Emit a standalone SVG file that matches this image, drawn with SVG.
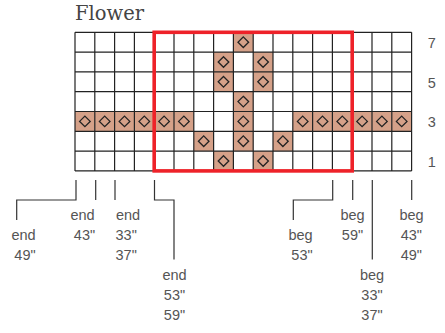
<svg xmlns="http://www.w3.org/2000/svg" xmlns:xlink="http://www.w3.org/1999/xlink" width="445" height="333" viewBox="0 0 445 333">
<style>
.title{font-family:"DejaVu Serif","Liberation Serif",serif;font-size:19.5px;fill:#444}
.lbl{font-family:"Liberation Sans",Arial,sans-serif;font-size:14.5px;fill:#555;text-anchor:middle}
.grid{fill:none;stroke:#222;stroke-width:1.2}
.conn{fill:none;stroke:#333;stroke-width:1.2}
.frame{fill:none;stroke:#ee2229;stroke-width:3.6}
</style>
<defs>
<g id="cell">
<rect x="0" y="0" width="19.8" height="19.8" fill="#d5a189"/>
<path d="M9.9,4.6 L15.2,9.9 L9.9,15.2 L4.6,9.9Z" fill="none" stroke="#222" stroke-width="1.3"/>
</g>
</defs>
<rect width="445" height="333" fill="#fff"/>
<text class="title" x="75" y="20">Flower</text>
<g id="chart">
<g id="cells">
<use xlink:href="#cell" x="233.4" y="32.3"/>
<use xlink:href="#cell" x="213.6" y="52.1"/>
<use xlink:href="#cell" x="253.2" y="52.1"/>
<use xlink:href="#cell" x="213.6" y="71.9"/>
<use xlink:href="#cell" x="253.2" y="71.9"/>
<use xlink:href="#cell" x="233.4" y="91.7"/>
<use xlink:href="#cell" x="75" y="111.5"/>
<use xlink:href="#cell" x="94.8" y="111.5"/>
<use xlink:href="#cell" x="114.6" y="111.5"/>
<use xlink:href="#cell" x="134.4" y="111.5"/>
<use xlink:href="#cell" x="154.2" y="111.5"/>
<use xlink:href="#cell" x="174" y="111.5"/>
<use xlink:href="#cell" x="233.4" y="111.5"/>
<use xlink:href="#cell" x="292.8" y="111.5"/>
<use xlink:href="#cell" x="312.6" y="111.5"/>
<use xlink:href="#cell" x="332.4" y="111.5"/>
<use xlink:href="#cell" x="352.2" y="111.5"/>
<use xlink:href="#cell" x="372" y="111.5"/>
<use xlink:href="#cell" x="391.8" y="111.5"/>
<use xlink:href="#cell" x="193.8" y="131.3"/>
<use xlink:href="#cell" x="233.4" y="131.3"/>
<use xlink:href="#cell" x="273" y="131.3"/>
<use xlink:href="#cell" x="213.6" y="151.1"/>
<use xlink:href="#cell" x="253.2" y="151.1"/>
</g>
<path class="grid" d="M75,32.3V170.9M94.8,32.3V170.9M114.6,32.3V170.9M134.4,32.3V170.9M154.2,32.3V170.9M174,32.3V170.9M193.8,32.3V170.9M213.6,32.3V170.9M233.4,32.3V170.9M253.2,32.3V170.9M273,32.3V170.9M292.8,32.3V170.9M312.6,32.3V170.9M332.4,32.3V170.9M352.2,32.3V170.9M372,32.3V170.9M391.8,32.3V170.9M411.6,32.3V170.9M75,32.3H411.6M75,52.1H411.6M75,71.9H411.6M75,91.7H411.6M75,111.5H411.6M75,131.3H411.6M75,151.1H411.6M75,170.9H411.6"/>
<rect class="frame" x="154.2" y="32.3" width="198" height="138.6"/>
</g>
<g id="row-numbers">
<text class="lbl" x="431.7" y="48">7</text>
<text class="lbl" x="431.7" y="87.5">5</text>
<text class="lbl" x="431.7" y="127">3</text>
<text class="lbl" x="431.7" y="166.5">1</text>
</g>
<g id="connectors">
<path class="conn" d="M76,180V200H16.7V220"/>
<path class="conn" d="M95.7,180V200"/>
<path class="conn" d="M115,180V200"/>
<path class="conn" d="M154.5,180V200H174V259.5"/>
<path class="conn" d="M332.7,180V200H293.3V220"/>
<path class="conn" d="M352.7,180V200"/>
<path class="conn" d="M372.3,180V259.5"/>
<path class="conn" d="M411.7,180V200"/>
</g>
<g id="label-end-49">
<text class="lbl" x="23.5" y="240">end</text>
<text class="lbl" x="25" y="259.5">49&quot;</text>
</g>
<g id="label-end-43">
<text class="lbl" x="82.5" y="219.5">end</text>
<text class="lbl" x="84.5" y="239.5">43&quot;</text>
</g>
<g id="label-end-33-37">
<text class="lbl" x="128" y="219.5">end</text>
<text class="lbl" x="126.2" y="239.5">33&quot;</text>
<text class="lbl" x="126.2" y="259.5">37&quot;</text>
</g>
<g id="label-end-53-59">
<text class="lbl" x="174.5" y="280">end</text>
<text class="lbl" x="174.5" y="299.5">53&quot;</text>
<text class="lbl" x="174.5" y="319.5">59&quot;</text>
</g>
<g id="label-beg-53">
<text class="lbl" x="300.5" y="240">beg</text>
<text class="lbl" x="302" y="259.5">53&quot;</text>
</g>
<g id="label-beg-59">
<text class="lbl" x="352.5" y="219.5">beg</text>
<text class="lbl" x="352.5" y="239.5">59&quot;</text>
</g>
<g id="label-beg-33-37">
<text class="lbl" x="372" y="280">beg</text>
<text class="lbl" x="372" y="299.5">33&quot;</text>
<text class="lbl" x="372" y="319.5">37&quot;</text>
</g>
<g id="label-beg-43-49">
<text class="lbl" x="411.5" y="219.5">beg</text>
<text class="lbl" x="411.3" y="239.5">43&quot;</text>
<text class="lbl" x="411.3" y="259.5">49&quot;</text>
</g>
</svg>
